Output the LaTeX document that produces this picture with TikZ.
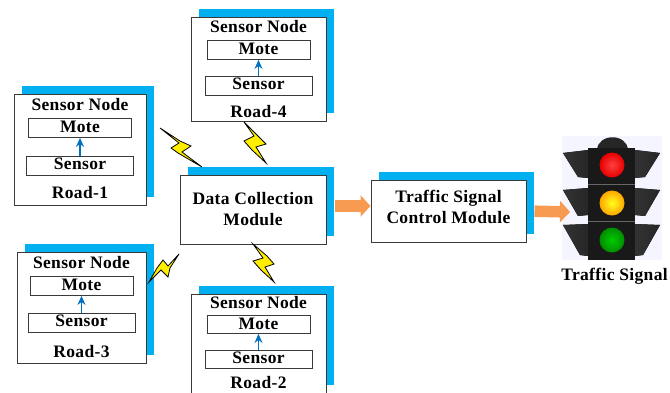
\documentclass[tikz,border=0pt]{standalone}
\usepackage{fontspec}
\setmainfont{Liberation Serif}[LetterSpace=2]
\usetikzlibrary{positioning,arrows.meta,shadows}
\definecolor{shadowblue}{HTML}{00B0F0}
\definecolor{flowblue}{HTML}{0070C0}
\definecolor{boltyellow}{HTML}{FFEE00}
\definecolor{pipeorange}{HTML}{F79B52}
\definecolor{boxline}{HTML}{3A3A3A}
\tikzset{
    >=Stealth,
    shadowed/.style={
        rectangle,
        draw=boxline, line width=1pt,
        fill=white,
        inner sep=0pt,
        general shadow={shadow xshift=8pt, shadow yshift=8pt, fill=shadowblue}
    },
    roadbox/.style={shadowed},
    modulebox/.style={
        shadowed,
        align=center,
        font=\fontsize{17.5}{21}\selectfont\bfseries
    },
    partbox/.style={
        rectangle,
        draw=boxline, line width=1pt,
        inner sep=0pt,
        font=\fontsize{17.5}{18}\selectfont\bfseries,
        text height=11pt,
        text depth=3pt
    },
    motebox/.style={partbox, minimum width=103pt, minimum height=19pt, text depth=1pt},
    sensorbox/.style={partbox, minimum width=107pt, minimum height=19pt},
    caption/.style={
        inner sep=0pt,
        font=\fontsize{17.5}{18}\selectfont\bfseries,
        text height=12pt,
        text depth=3pt
    },
    upflow/.style={-{Stealth[length=9pt,width=8pt]}, flowblue, line width=1.2pt},
    pipe/.style={
        -{Triangle[width=21pt,length=10pt]},
        pipeorange,
        line width=11.5pt
    },
    bolt/.style={draw=black, line width=0.8pt, fill=boltyellow, line join=miter},
    hood/.style={left color=black!80, middle color=black!50, right color=black!85},
    lamp/.style={circle, minimum size=25pt, inner sep=0pt}
}
\begin{document}
\begin{tikzpicture}[x=1pt, y=-1pt]
    \useasboundingbox (0,0) rectangle (670,392);

    % sensor nodes
    \node[roadbox, minimum width=132pt, minimum height=111pt] (road1) at (80,149.5) {};
    \node[caption, below=5pt of road1.north] (title1) {Sensor Node};
    \node[motebox, below=4pt of title1] (mote1) {Mote};
    \node[sensorbox, below=18pt of mote1] (sensor1) {Sensor};
    \node[caption, below=10pt of sensor1] (label1) {Road-1};
    \draw[upflow] (sensor1) -- (mote1);

    \node[roadbox, minimum width=135pt, minimum height=104pt] (road4) at (258.5,69) {};
    \node[caption, below=4pt of road4.north] (title4) {Sensor Node};
    \node[motebox, below=4pt of title4] (mote4) {Mote};
    \node[sensorbox, below=16pt of mote4] (sensor4) {Sensor};
    \node[caption, below=9pt of sensor4] (label4) {Road-4};
    \draw[upflow] (sensor4) -- (mote4);

    \node[roadbox, minimum width=129pt, minimum height=111pt] (road3) at (81.5,307.5) {};
    \node[caption, below=5pt of road3.north] (title3) {Sensor Node};
    \node[motebox, below=4pt of title3] (mote3) {Mote};
    \node[sensorbox, below=17pt of mote3] (sensor3) {Sensor};
    \node[caption, below=12pt of sensor3] (label3) {Road-3};
    \draw[upflow] (sensor3) -- (mote3);

    \node[roadbox, minimum width=135pt, minimum height=99pt] (road2) at (258.5,343.5) {};
    \node[caption, below=3pt of road2.north] (title2) {Sensor Node};
    \node[motebox, minimum height=18pt, below=3pt of title2] (mote2) {Mote};
    \node[sensorbox, minimum height=18pt, below=16pt of mote2] (sensor2) {Sensor};
    \node[caption, below=7pt of sensor2] (label2) {Road-2};
    \draw[upflow] (sensor2) -- (mote2);

    % modules
    \node[modulebox, minimum width=146pt, minimum height=69pt] (data) at (253,209.5) {Data Collection\\Module};
    \node[modulebox, minimum width=155pt, minimum height=62pt, text depth=8pt] (control) at (448.5,211) {Traffic Signal\\Control Module};

    % wireless links
    \draw[bolt] (160,128) -- (180,141) -- (191,146) -- (182,152) -- (202,167) -- (178,153) -- (171,148) -- (179,143) -- cycle;
    \draw[bolt] (244,122) -- (257,135) -- (266,144) -- (256,147) -- (266,163) -- (252,150) -- (244,141) -- (254,136) -- cycle;
    \draw[bolt] (253,244) -- (267,256) -- (274,264) -- (265,267) -- (274,282) -- (261,270) -- (253,261) -- (263,258) -- cycle;
    \draw[bolt] (179,254) -- (170,268) -- (168,277) -- (161,270) -- (149,282) -- (157,268) -- (163,260) -- (168,266) -- cycle;

    % traffic light
    \node[rectangle, fill=blue!4!white, minimum width=100pt, minimum height=124pt, inner sep=0pt] (light) at (612,198) {};
    \fill[hood] (563,153) -- (588,150) -- (588,178) -- (578,177) -- cycle;
    \fill[hood] (563,190) -- (588,188) -- (588,215) -- (578,216) -- cycle;
    \fill[hood] (563,225) -- (588,224) -- (588,256) -- (580,255) -- cycle;
    \fill[hood] (660,153) -- (635,150) -- (635,178) -- (645,177) -- cycle;
    \fill[hood] (660,190) -- (635,188) -- (635,215) -- (645,216) -- cycle;
    \fill[hood] (660,225) -- (635,224) -- (635,256) -- (643,255) -- cycle;
    \fill[black!85] (597,150) .. controls (598,133) and (627,133) .. (628,150) -- cycle;
    \node[rectangle, fill=black!90, minimum width=47pt, minimum height=112pt, inner sep=0pt] (housing) at (611.5,204) {};
    \draw[black!60, line width=0.5pt] (588,184) -- (635,184) (588,221) -- (635,221);
    \node[lamp, inner color=red!75!white, outer color=red!90!black] (redlamp) at (612,165) {};
    \node[lamp, inner color=yellow!90!white, outer color=orange!70!yellow] (yellowlamp) at (612,203) {};
    \node[lamp, inner color=green!80!black, outer color=green!55!black] (greenlamp) at (612,240) {};
    \node[caption, below=8pt of light.south, xshift=2.5pt] (signal) {Traffic Signal};

    % flow
    \coordinate (lighttip) at (570,212);
    \draw[pipe, shorten <=8pt] ([yshift=3.5pt]data.east) -- ([yshift=5pt]control.west);
    \draw[pipe, shorten <=8pt] (control.east) -- (lighttip);
\end{tikzpicture}
\end{document}
